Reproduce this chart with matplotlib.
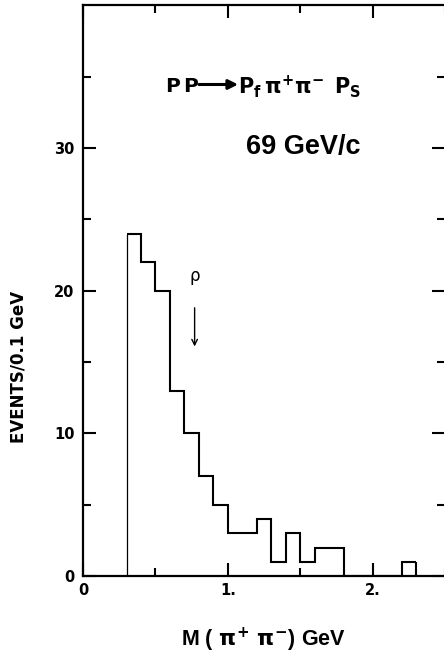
import numpy as np
import matplotlib
matplotlib.use('Agg')
import matplotlib.pyplot as plt

# M(pi+ pi-) histogram, 0.1 GeV bins from 0.3 to 2.3 GeV
bin_edges = [0.3, 0.4, 0.5, 0.6, 0.7, 0.8, 0.9, 1.0, 1.1, 1.2, 1.3,
             1.4, 1.5, 1.6, 1.7, 1.8, 1.9, 2.0, 2.1, 2.2, 2.3]
counts = [24, 22, 20, 13, 10, 7, 5, 3, 3, 4, 1, 3, 1, 2, 2, 0, 0, 0, 0, 1]

x_major = [0, 1, 2]
x_labels = ['0', '1.', '2.']
x_minor = [0.5, 1.5, 2.5]
y_major = [0, 10, 20, 30]
y_labels = ['0', '10', '20', '30']
y_minor = [5, 15, 25, 35]
rho_mass = 0.77

plt.rcParams['font.family'] = ['Liberation Sans', 'DejaVu Sans']
plt.rcParams['mathtext.fontset'] = 'custom'
plt.rcParams['mathtext.rm'] = 'DejaVu Sans:bold'
plt.rcParams['mathtext.it'] = 'DejaVu Sans:bold'
plt.rcParams['mathtext.bf'] = 'DejaVu Sans:bold'

fig = plt.figure(figsize=(4.44, 6.6), dpi=100)
ax = fig.add_axes([0.187, 0.127, 0.816, 0.865])

# step outline, with the thin leading edge drawn separately
ax.stairs(counts, bin_edges, baseline=None, color='black', linewidth=1.5)
ax.vlines(bin_edges[0], 0, counts[0], color='black', linewidth=0.9)
ax.vlines(bin_edges[-1], 0, counts[-1], color='black', linewidth=1.5)

ax.set_xlim(0, 2.5)
ax.set_ylim(0, 40)
ax.spines['right'].set_visible(False)
for s in ['left', 'top', 'bottom']:
    ax.spines[s].set_linewidth(1.6)

ax.set_xticks(x_major)
ax.set_xticklabels(x_labels)
ax.set_xticks(x_minor, minor=True)
ax.set_yticks(y_major)
ax.set_yticklabels(y_labels)
ax.set_yticks(y_minor, minor=True)
ax.tick_params(which='both', direction='in', top=True, right=True, width=1.5)
ax.tick_params(which='major', length=9.5)
ax.tick_params(which='minor', length=6)
ax.tick_params(axis='x', pad=5, labelsize=10.5)
ax.tick_params(axis='y', pad=6, labelsize=10.5)
for lab in ax.get_xticklabels() + ax.get_yticklabels():
    lab.set_fontweight('bold')
    lab.set_family('DejaVu Sans')

ax.set_ylabel('EVENTS/0.1 GeV', fontsize=12, fontweight='bold',
              family='DejaVu Sans')
ax.yaxis.set_label_coords(-0.179, 0.366)
ax.yaxis.label.set_va('center')

ax.set_xlabel(r'M ( $\pi^{+}\ \pi^{-}$) GeV', fontsize=15.5, fontweight='bold')
ax.xaxis.set_label_coords(0.497, -0.112)
ax.xaxis.label.set_va('center')

# reaction: PP -> Pf pi+ pi- Ps
ax.text(0.80, 34.3, r'$\mathrm{P\,P}$', ha='right', va='center', fontsize=14.5)
ax.annotate('', xy=(1.07, 34.45), xytext=(0.80, 34.45),
            arrowprops=dict(arrowstyle='-|>', lw=2.2, color='black',
                            mutation_scale=14, shrinkA=0, shrinkB=0))
ax.text(1.07, 34.3, r'$\mathrm{P_f}\,\pi^{+}\pi^{-}\;\,\mathrm{P_S}$',
        ha='left', va='center', fontsize=15)

ax.text(1.52, 30.1, '69 GeV/c', fontsize=19.5, fontweight='bold',
        ha='center', va='center')

# rho marker
ax.text(rho_mass, 21.0, 'ρ', fontsize=12, ha='center', va='center',
        family='DejaVu Sans')
ax.annotate('', xy=(rho_mass, 15.9), xytext=(rho_mass, 19.0),
            arrowprops=dict(arrowstyle='->', lw=1.0, color='black'))

fig.savefig('out.png', dpi=100)
